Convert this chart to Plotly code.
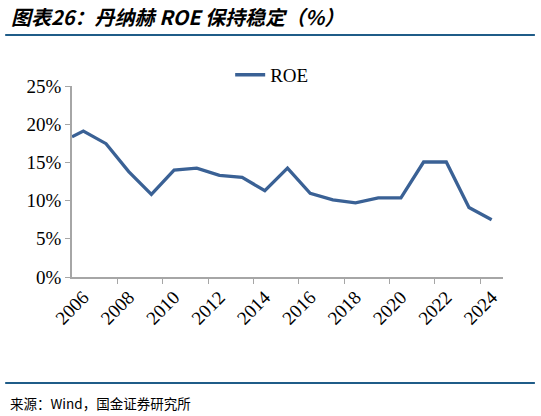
import plotly.graph_objects as go

# ROE by year (first point is the half-step start of the series)
years = [2005.5, 2006, 2007, 2008, 2009, 2010, 2011, 2012, 2013, 2014,
         2015, 2016, 2017, 2018, 2019, 2020, 2021, 2022, 2023, 2024]
roe = [18.35, 19.1, 17.45, 13.8, 10.8, 14.0, 14.25, 13.3, 13.05, 11.3,
       14.25, 10.95, 10.1, 9.7, 10.35, 10.35, 15.05, 15.05, 9.1, 7.5]
label_years = [2006, 2008, 2010, 2012, 2014, 2016, 2018, 2020, 2022, 2024]
tick_bounds = [2007.5, 2009.5, 2011.5, 2013.5, 2015.5, 2017.5, 2019.5, 2021.5, 2023.5]
y_ticks = [0, 5, 10, 15, 20, 25]

serif = "Times New Roman, Liberation Serif, serif"
cjk = "Noto Sans CJK SC"

fig = go.Figure()
fig.add_trace(go.Scatter(x=years, y=roe, mode="lines", name="ROE",
                         line=dict(color="#3a6195", width=3.3)))

fig.update_layout(
    width=541, height=416,
    margin=dict(l=72, r=38, t=86, b=139, pad=0),
    plot_bgcolor="white", paper_bgcolor="white",
    showlegend=True,
    legend=dict(orientation="h", x=0.367, y=1.058, xanchor="left", yanchor="middle",
                font=dict(family=serif, size=19, color="#000000"),
                bgcolor="rgba(0,0,0,0)"),
    xaxis=dict(range=[2005.5, 2024.5], tickmode="array", tickvals=label_years,
               ticktext=[str(v) for v in label_years], tickangle=-45,
               ticks="", showgrid=False, zeroline=False, automargin=False,
               showline=True, linecolor="#a6a6a6", linewidth=1.5,
               tickfont=dict(family=serif, size=19, color="#000000"),
               minor=dict(tickvals=tick_bounds, ticks="outside", ticklen=5,
                          tickcolor="#a6a6a6", tickwidth=1.2, showgrid=False)),
    yaxis=dict(range=[0, 25], tickmode="array", tickvals=y_ticks,
               ticktext=[f"{v}%" for v in y_ticks], automargin=False,
               ticks="outside", ticklen=5, tickcolor="#a6a6a6", tickwidth=1.2,
               showgrid=False, zeroline=False,
               showline=True, linecolor="#a6a6a6", linewidth=1.5,
               tickfont=dict(family=serif, size=19, color="#000000")),
)

fig.add_annotation(text="<b><i>图表26：丹纳赫 ROE 保持稳定（%）</i></b>",
                   xref="paper", yref="paper", x=-0.146, y=1.0,
                   yshift=70, xanchor="left", yanchor="middle",
                   showarrow=False, font=dict(family=cjk, size=20, color="#000000"))
fig.add_annotation(text="来源：Wind，国金证券研究所",
                   xref="paper", yref="paper", x=-0.148, y=0,
                   yshift=-126, xanchor="left", yanchor="middle",
                   showarrow=False, font=dict(family=cjk, size=13.5, color="#000000"))

fig.add_shape(type="line", xref="paper", yref="paper",
              x0=-0.155, x1=1.074, y0=1.267, y1=1.267,
              line=dict(color="#1f5c88", width=2))
fig.add_shape(type="line", xref="paper", yref="paper",
              x0=-0.155, x1=1.074, y0=-0.555, y1=-0.555,
              line=dict(color="#1f5c88", width=2))

# page body has a default 8px margin; drop it so the figure fills the window
fig.write_html("out.html", config={"displayModeBar": False},
               post_script="document.body.style.margin='0';")
